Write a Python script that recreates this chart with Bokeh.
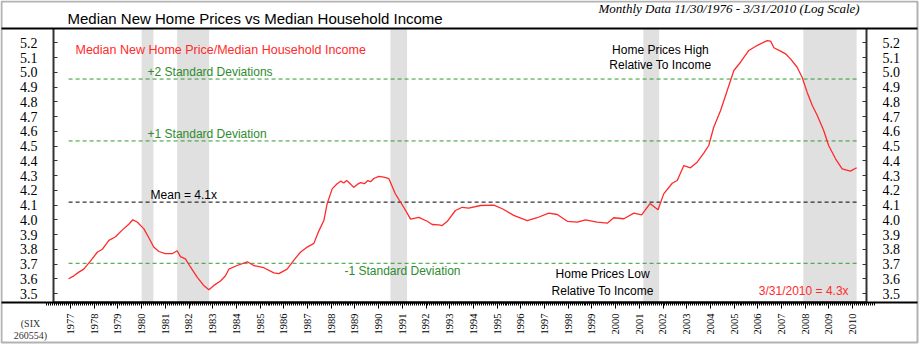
import math
from bokeh.plotting import figure
from bokeh.models import (Range1d, LinearAxis, FixedTicker, Label, BoxAnnotation,
                          NumeralTickFormatter)
from bokeh.embed import file_html
from bokeh.resources import INLINE

# ---- data (decimal year, ratio) ----
years = [1976.92, 1977.14, 1977.35, 1977.56, 1977.84, 1978.13, 1978.34, 1978.62, 1978.90,
         1979.18, 1979.46, 1979.63, 1979.81, 1980.09, 1980.30, 1980.51, 1980.73, 1981.00,
         1981.29, 1981.50, 1981.64, 1981.85, 1982.06, 1982.35, 1982.62, 1982.84, 1983.05,
         1983.33, 1983.54, 1983.68, 1984.03, 1984.46, 1984.73, 1985.16, 1985.58, 1985.79,
         1986.14, 1986.42, 1986.70, 1986.99, 1987.27, 1987.48, 1987.69, 1987.83, 1988.04,
         1988.25, 1988.40, 1988.53, 1988.65, 1988.74, 1988.95, 1989.10, 1989.24, 1989.40,
         1989.55, 1989.66, 1989.80, 1990.01, 1990.22, 1990.43,
         1990.71, 1991.06, 1991.35, 1991.70, 1992.05, 1992.26, 1992.54, 1992.68, 1992.90,
         1993.24, 1993.53, 1993.80, 1994.30, 1994.86, 1995.22, 1995.70, 1996.27, 1996.69,
         1997.18, 1997.54, 1997.96, 1998.38, 1998.73, 1999.22, 1999.65, 1999.92, 2000.35,
         2000.77, 2001.10, 2001.45, 2001.79, 2002.03, 2002.39, 2002.60, 2002.88, 2003.16,
         2003.44, 2003.72, 2003.93, 2004.14, 2004.43, 2004.71, 2004.99, 2005.27, 2005.62,
         2005.90, 2006.11, 2006.40, 2006.54, 2006.68, 2006.96, 2007.17, 2007.38, 2007.66,
         2007.87, 2008.08, 2008.30, 2008.51, 2008.78, 2008.99, 2009.28, 2009.56, 2009.91,
         2010.17]
ratio = [3.600, 3.620, 3.645, 3.665, 3.720, 3.780, 3.800, 3.860, 3.885,
         3.930, 3.970, 4.000, 3.985, 3.940, 3.880, 3.815, 3.785, 3.770,
         3.770, 3.790, 3.750, 3.735, 3.680, 3.610, 3.555, 3.525, 3.555,
         3.585, 3.620, 3.665, 3.690, 3.715, 3.690, 3.675, 3.640, 3.635,
         3.665, 3.725, 3.780, 3.815, 3.840, 3.925, 3.995, 4.110, 4.210,
         4.245, 4.262, 4.250, 4.266, 4.255, 4.220, 4.240, 4.252, 4.245,
         4.266, 4.258, 4.280, 4.295, 4.290, 4.280,
         4.175, 4.085, 4.005, 4.016, 3.990, 3.968, 3.965, 3.961, 3.990,
         4.063, 4.085, 4.079, 4.097, 4.100, 4.075, 4.030, 3.995, 4.014,
         4.045, 4.036, 3.990, 3.984, 4.000, 3.984, 3.977, 4.014, 4.007,
         4.045, 4.034, 4.110, 4.068, 4.176, 4.248, 4.267, 4.368, 4.353,
         4.391, 4.452, 4.504, 4.628, 4.741, 4.877, 5.013, 5.069, 5.149,
         5.176, 5.194, 5.216, 5.212, 5.167, 5.144, 5.126, 5.092, 5.035,
         4.967, 4.866, 4.775, 4.708, 4.606, 4.504, 4.414, 4.346, 4.330,
         4.353]

rec_start = [1980.0, 1981.5, 1990.5, 2001.17, 2007.92]
rec_end = [1980.5, 1982.85, 1991.2, 2001.84, 2010.17]

mean_val = 4.12
sd_levels = [3.705, 4.535, 4.955]

year_ticks = list(range(1977, 2011))
y_ticks = [3.5, 3.6, 3.7, 3.8, 3.9, 4.0, 4.1, 4.2, 4.3, 4.4, 4.5, 4.6, 4.7, 4.8, 4.9, 5.0, 5.1, 5.2]

# ---- layout constants ----
W, H = 922, 345
# plot area (inner box) in data units
PX0, PX1 = 1976.2827, 2010.5865
PY0, PY1 = 3.43894, 5.29783

p = figure(width=W, height=H, output_backend="svg", toolbar_location=None, title=None,
           x_range=Range1d(1974.04641, 2012.94937), y_range=Range1d(3.14722, 5.48779),
           min_border=0, min_border_left=0, min_border_right=0,
           min_border_top=0, min_border_bottom=0,
           x_axis_type=None, y_axis_type=None)
p.grid.visible = False
p.outline_line_color = None
p.background_fill_color = "white"
p.border_fill_color = "white"

# recession bars
p.quad(left=rec_start, right=rec_end, bottom=PY0, top=PY1,
       fill_color="#e0e0e0", line_color=None)

# standard deviation / mean lines
x0, x1 = years[0], years[-1]
for lv in sd_levels:
    p.line([x0, x1], [lv, lv], line_color="#2e9b2e", line_dash="4 3", line_width=1)
p.line([x0, x1], [mean_val, mean_val], line_color="#000000", line_dash="4 3", line_width=1)

# series
p.line(years, ratio, line_color="#ff2a2a", line_width=1.3)

# ---- axes, placed at the plot-area edges ----
xa = LinearAxis(fixed_location=PY0, bounds=(PX0, PX1))
xa.ticker = FixedTicker(ticks=year_ticks,
                        minor_ticks=[y + m / 12 for y in range(1976, 2011) for m in range(12)])
xa.major_tick_in = 0
xa.major_tick_out = 6
xa.minor_tick_in = 0
xa.minor_tick_out = 3
xa.axis_line_color = "#000000"
xa.axis_line_width = 2
xa.major_tick_line_color = "#000000"
xa.minor_tick_line_color = "#000000"
xa.major_label_orientation = math.pi / 2
xa.major_label_text_font = "Liberation Serif"
xa.major_label_text_font_size = "10.5px"
xa.major_label_text_color = "#000000"
xa.major_label_standoff = 5
p.add_layout(xa, "below")

for side, loc in (("left", PX0), ("right", PX1)):
    ya = LinearAxis(fixed_location=loc, bounds=(PY0, PY1))
    ya.ticker = FixedTicker(ticks=y_ticks)
    ya.formatter = NumeralTickFormatter(format="0.0")
    ya.major_tick_in = 4
    ya.major_tick_out = 0
    ya.minor_tick_in = 0
    ya.minor_tick_out = 0
    ya.axis_line_color = "#333333"
    ya.axis_line_width = 2
    ya.major_tick_line_color = "#333333"
    ya.major_label_text_font = "Liberation Serif"
    ya.major_label_text_font_size = "14px"
    ya.major_label_text_color = "#000000"
    ya.major_label_standoff = 16
    p.add_layout(ya, side)

# ---- frame decorations (screen units: x from left, y from bottom) ----
def sy(cy):
    return H - cy

def sbox(l, r, t, b, fill=True):
    kw = dict(left=l, right=r, top=sy(t), bottom=sy(b),
              left_units="screen", right_units="screen",
              top_units="screen", bottom_units="screen")
    if fill:
        p.add_layout(BoxAnnotation(fill_color="#000000", fill_alpha=1, line_alpha=0, **kw))
    else:
        p.add_layout(BoxAnnotation(fill_alpha=0, line_color="#000000", line_width=2, **kw))

sbox(1, 917, 1, 342, fill=False)   # outer border
sbox(1, 917, 27, 29)               # title separator
sbox(1, 917, 301, 303)             # bottom rule

def slabel(cx, cy, text, size, font="Liberation Sans", color="#000000", align="left", style="normal"):
    p.add_layout(Label(x=cx, y=sy(cy), x_units="screen", y_units="screen", text=text,
                       text_font=font, text_font_size=size, text_color=color,
                       text_align=align, text_baseline="middle", text_font_style=style))

slabel(67, 18, "Median New Home Prices vs Median Household Income", "15px")
slabel(598, 8, "Monthly Data 11/30/1976 - 3/31/2010 (Log Scale)", "13px",
       font="Liberation Serif", align="left", style="italic")
slabel(30, 323, "(SIX", "10px", font="Liberation Serif", color="#333333", align="center")
slabel(30, 335, "260554)", "10px", font="Liberation Serif", color="#333333", align="center")

# ---- annotations in data coordinates ----
def dlabel(x, y, text, color="#000000", align="left", size="12px"):
    p.add_layout(Label(x=x, y=y, text=text, text_font="Liberation Sans", text_font_size=size,
                       text_color=color, text_align=align, text_baseline="middle"))

dlabel(1977.21, 5.149, "Median New Home Price/Median Household Income", color="#ff2a2a", size="12.5px")
dlabel(1980.25, 5.0, "+2 Standard Deviations", color="#2e8b2e")
dlabel(1980.25, 4.585, "+1 Standard Deviation", color="#2e8b2e")
dlabel(1980.38, 4.165, "Mean = 4.1x")
dlabel(1988.56, 3.656, "-1 Standard Deviation", color="#2e8b2e")
dlabel(2001.89, 5.149, "Home Prices High", align="center")
dlabel(2001.89, 5.047, "Relative To Income", align="center")
dlabel(1999.45, 3.629, "Home Prices Low", align="center")
dlabel(1999.45, 3.520, "Relative To Income", align="center")
dlabel(2009.83, 3.514, "3/31/2010 = 4.3x", color="#ff2a2a", align="right")

open("out.html", "w").write(file_html(p, INLINE))
